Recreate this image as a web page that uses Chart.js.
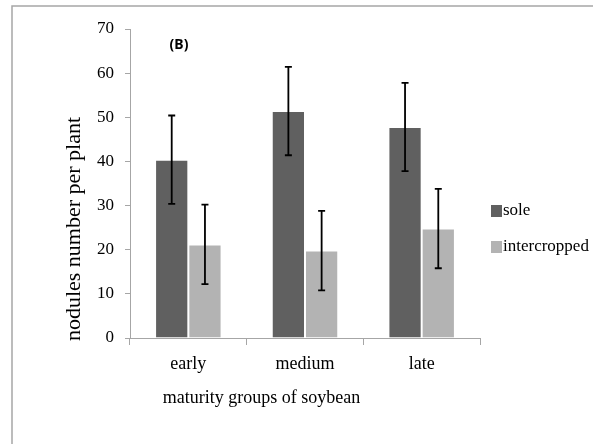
<!DOCTYPE html>
<html>
<head>
<meta charset="utf-8">
<script src="https://cdn.jsdelivr.net/npm/chart.js@4"></script>
<style>
  body { margin: 0; background: #fff; }
</style>
</head>
<body>
<canvas id="grafico" width="593" height="444"></canvas>
<script>
// valores
const categorias = ['early', 'medium', 'late'];
const sole = [40.4, 51.4, 47.8];
const soleErro = [10, 10, 10];
const intercropped = [21.2, 19.8, 24.8];
const intercroppedErro = [9, 9, 9];
const erros = [soleErro, intercroppedErro];

const serif = '"Liberation Serif", "Times New Roman", serif';

// barras de erro
const barrasErro = {
  id: 'barrasErro',
  afterDatasetsDraw(chart) {
    const ctx = chart.ctx;
    const y = chart.scales.y;
    ctx.save();
    ctx.strokeStyle = '#000';
    ctx.lineWidth = 1.8;
    chart.data.datasets.forEach((ds, i) => {
      const meta = chart.getDatasetMeta(i);
      meta.data.forEach((bar, j) => {
        const v = ds.data[j], e = erros[i][j];
        const top = y.getPixelForValue(v + e);
        const bottom = y.getPixelForValue(v - e);
        ctx.beginPath();
        ctx.moveTo(bar.x, top); ctx.lineTo(bar.x, bottom);
        ctx.moveTo(bar.x - 3.5, top); ctx.lineTo(bar.x + 3.5, top);
        ctx.moveTo(bar.x - 3.5, bottom); ctx.lineTo(bar.x + 3.5, bottom);
        ctx.stroke();
      });
    });
    ctx.restore();
  }
};

// moldura, titulos e legenda
const extras = {
  id: 'extras',
  beforeDraw(chart) {
    const ctx = chart.ctx;
    ctx.save();
    ctx.fillStyle = '#fff';
    ctx.fillRect(0, 0, chart.width, chart.height);
    ctx.strokeStyle = '#a6a6a6';
    ctx.lineWidth = 1.5;
    ctx.beginPath();
    ctx.moveTo(12, 460); ctx.lineTo(12, 6); ctx.lineTo(610, 6);
    ctx.stroke();
    ctx.restore();
  },
  afterDraw(chart) {
    const ctx = chart.ctx;
    ctx.save();
    ctx.fillStyle = '#000';
    ctx.textAlign = 'center';
    ctx.textBaseline = 'middle';

    ctx.font = '18px ' + serif;
    ctx.fillText('maturity groups of soybean', 261.5, 398);

    ctx.save();
    ctx.translate(74.5, 229);
    ctx.rotate(-Math.PI / 2);
    ctx.font = '22px ' + serif;
    ctx.fillText('nodules number per plant', 0, 0);
    ctx.restore();

    ctx.font = 'bold 14px "Noto Sans", sans-serif';
    ctx.fillText('(B)', 179, 45);

    // legenda
    ctx.textAlign = 'left';
    ctx.font = '17px ' + serif;
    const posY = [211, 247];
    chart.data.datasets.forEach((ds, i) => {
      ctx.fillStyle = ds.backgroundColor;
      ctx.fillRect(491, posY[i] - 6, 11, 12);
      ctx.fillStyle = '#000';
      ctx.fillText(ds.label, 503, posY[i]);
    });
    ctx.restore();
  }
};

new Chart(document.getElementById('grafico'), {
  type: 'bar',
  data: {
    labels: categorias,
    datasets: [
      {
        label: 'sole',
        data: sole,
        backgroundColor: '#606060',
        borderColor: 'rgba(255,255,255,0.5)',
        borderWidth: 1
      },
      {
        label: 'intercropped',
        data: intercropped,
        backgroundColor: '#b3b3b3',
        borderColor: 'rgba(255,255,255,0.5)',
        borderWidth: 1
      }
    ]
  },
  options: {
    responsive: false,
    animation: false,
    layout: { padding: { left: 0, right: 113, top: 29, bottom: 0 } },
    datasets: { bar: { categoryPercentage: 0.57, barPercentage: 1.0 } },
    plugins: {
      legend: { display: false },
      tooltip: { enabled: false }
    },
    scales: {
      x: {
        afterFit(scale) { scale.height = 106; },
        grid: {
          offset: true,
          drawOnChartArea: false,
          drawTicks: true,
          tickLength: 7,
          color: '#a6a6a6'
        },
        border: { display: true, color: '#a6a6a6', width: 1 },
        ticks: {
          padding: 8,
          color: '#000',
          font: { family: serif, size: 18 }
        }
      },
      y: {
        min: 0,
        max: 70,
        afterFit(scale) { scale.width = 130; },
        grid: {
          drawOnChartArea: false,
          drawTicks: true,
          tickLength: 5,
          color: '#a6a6a6'
        },
        border: { display: true, color: '#a6a6a6', width: 1 },
        ticks: {
          stepSize: 10,
          padding: 11,
          color: '#000',
          font: { family: serif, size: 17 }
        }
      }
    }
  },
  plugins: [barrasErro, extras]
});
</script>
</body>
</html>
